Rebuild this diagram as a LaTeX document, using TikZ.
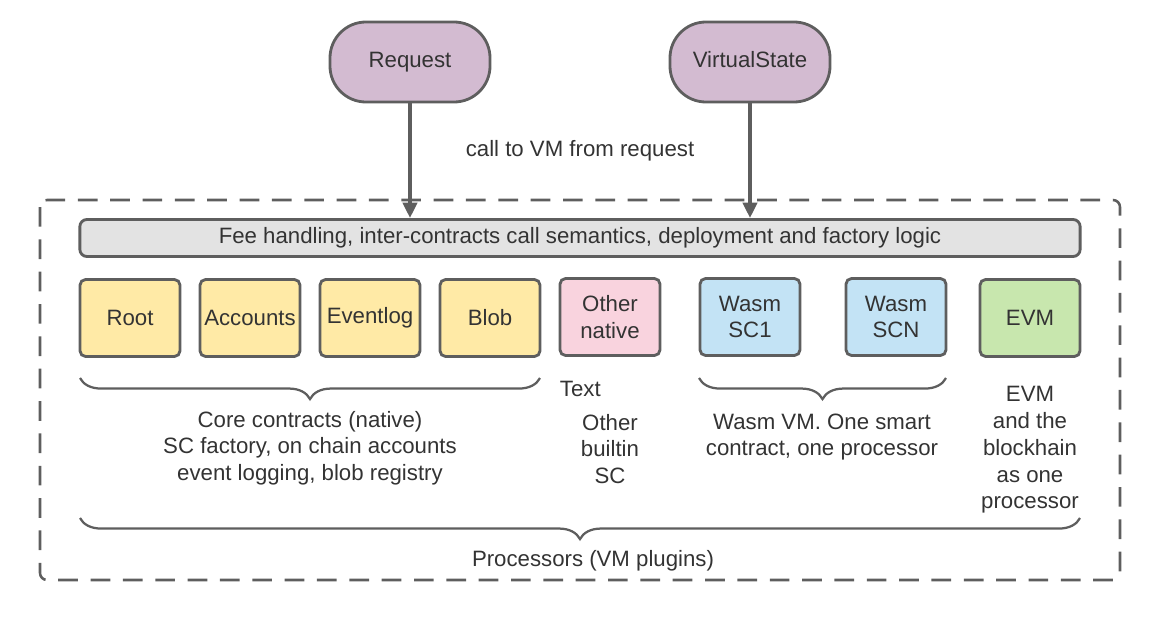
\documentclass[tikz,border=0pt]{standalone}
\usepackage{fontspec}
\setmainfont{Liberation Sans}
\usetikzlibrary{arrows.meta,decorations.pathreplacing}

\definecolor{edgegray}{HTML}{5E5E5E}
\definecolor{txtgray}{HTML}{333333}
\definecolor{purplefill}{HTML}{D3BBD1}
\definecolor{yellowfill}{HTML}{FFEAA6}
\definecolor{pinkfill}{HTML}{F9D3DE}
\definecolor{bluefill}{HTML}{C3E3F5}
\definecolor{greenfill}{HTML}{C8E7AE}
\definecolor{grayfill}{HTML}{E3E3E3}

\tikzset{
	box/.style={draw=edgegray, line width=2pt, rounded corners=4pt, minimum width=2.5cm, minimum height=1.925cm, align=center, inner sep=0pt},
	pill/.style={draw=edgegray, line width=2pt, fill=purplefill, rounded corners=0.9cm, minimum width=4cm, minimum height=2cm, text height=1.6ex, text depth=0.2ex},
	brc/.style={draw=edgegray, line width=1.6pt, decorate, decoration={brace, mirror, amplitude=15pt}},
	arr/.style={draw=edgegray, line width=2.8pt, -{Triangle[length=11pt,width=10pt]}},
	lbl/.style={align=center}
}

\begin{document}
\begin{tikzpicture}[x=0.025cm,y=-0.025cm,font=\fontsize{15.8}{19}\selectfont,text=txtgray]
	\useasboundingbox (0,0) rectangle (1160,632);
	
	% outer frame
	\draw[edgegray, line width=1.8pt, dash pattern=on 14pt off 9pt, rounded corners=5pt] (40,200) rectangle (1120,580);
	
	% inputs
	\node[pill] (req) at (410,62) {Request};
	\node[pill] (state) at (750,62) {VirtualState};
	\node (call) at (580,151) {call to VM from request};
	
	% fee layer
	\node[box, fill=grayfill, minimum width=25cm, minimum height=0.925cm, rounded corners=5pt, text height=1.6ex, text depth=0pt] (fee) at (580,238) {Fee handling, inter-contracts call semantics, deployment and factory logic};
	
	\draw[arr] (req) -- (req |- fee.north);
	\draw[arr] (state) -- (state |- fee.north);
	
	% processors
	\node[box, fill=yellowfill] (root) at (130,318) {Root};
	\node[box, fill=yellowfill] (acc) at (250,318) {Accounts};
	\node[box, fill=yellowfill] (evlog) at (370,318) {Eventlog};
	\node[box, fill=yellowfill] (blob) at (490,318) {Blob};
	\node[box, fill=pinkfill] (other) at (610,317) {Other\\native};
	\node[box, fill=bluefill] (wasm1) at (750,317) {Wasm\\SC1};
	\node[box, fill=bluefill] (wasmn) at (896,317) {Wasm\\SCN};
	\node[box, fill=greenfill] (evm) at (1030,318) {EVM};
	
	% braces
	\coordinate (c1) at (80,378);
	\coordinate (c2) at (540,378);
	\coordinate (w1) at (699,378);
	\coordinate (w2) at (946,378);
	\coordinate (p1) at (80,518);
	\coordinate (p2) at (1080,518);
	\draw[brc] (c1) -- (c2);
	\draw[brc] (w1) -- (w2);
	\draw[brc] (p1) -- (p2);
	
	% labels
	\node[lbl] (core) at (310,448) {Core contracts (native)\\SC factory, on chain accounts\\event logging, blob registry};
	\node[anchor=west] (txt) at (555,389) {Text};
	\node[lbl] (builtin) at (610,449) {Other\\builtin\\SC};
	\node[lbl] (wasmvm) at (822,437) {Wasm VM. One smart\\contract, one processor};
	\node[lbl] (evmtxt) at (1030,450) {EVM\\and the\\blockhain\\as one\\processor};
	\node (proc) at (593,561) {Processors (VM plugins)};
	
\end{tikzpicture}
\end{document}
